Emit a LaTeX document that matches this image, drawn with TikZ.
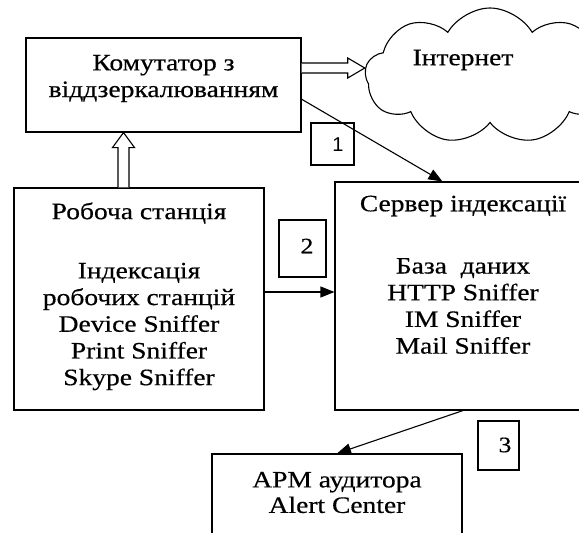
\documentclass[tikz,border=0pt]{standalone}
\usepackage{fontspec}
\setmainfont{Liberation Serif}[FakeStretch=1.17, FakeBold=0.5]
\newfontfamily\numsans{Liberation Sans}
\usetikzlibrary{calc,shapes.symbols,arrows.meta}

\tikzset{
  frame/.style={draw, line width=1.1pt, rectangle, inner sep=0pt},
  label text/.style={align=center, font=\fontsize{23.5}{26.7}\selectfont, inner sep=0pt},
  numbox/.style={draw, line width=1.1pt, rectangle, inner sep=0pt},
  numtext/.style={font=\fontsize{22}{24}\selectfont, inner sep=0pt},
  link/.style={line width=1.1pt, -{Triangle[length=14pt,width=11pt]}},
  hollow/.style={draw, line width=1.1pt, fill=white, line join=miter}
}

\begin{document}
\begin{tikzpicture}[x=1pt, y=-1pt]
  \useasboundingbox (0,0) rectangle (579,533);
  \clip (0,0) rectangle (579,533);

  % cloud for the Internet
  \node[cloud, draw, line width=1.1pt, cloud puffs=9, cloud puff arc=120,
        cloud ignores aspect, minimum width=250pt, minimum height=136pt, inner sep=0pt]
        (cloud) at (490,76) {};
  \node[label text] (inet) at (463,60) {Інтернет};

  % main boxes
  \node[frame, minimum width=275pt, minimum height=94pt]  (sw)  at (163.5,85) {};
  \node[frame, minimum width=250pt, minimum height=222pt] (ws)  at (139,299) {};
  \node[frame, minimum width=256pt, minimum height=228pt] (srv) at (463,296) {};
  \node[frame, minimum width=250pt, minimum height=130pt] (arm) at (337,519) {};

  % box texts
  \node[label text] (swtext) at (163.5,78.5) {Комутатор з\\віддзеркалюванням};
  \node[label text] (wstitle) at (139,213) {Робоча станція};
  \node[label text] (wstext) at (139,326.5)
    {Індексація\\робочих станцій\\Device Sniffer\\Print Sniffer\\Skype Sniffer};
  \node[label text] (srvtitle) at (463,206) {Сервер індексації};
  \node[label text] (srvtext) at (463,306)
    {База\ \ даних\\HTTP Sniffer\\IM Sniffer\\Mail Sniffer};
  \node[label text, font=\fontsize{23.5}{25.5}\selectfont] (armtext) at (337,492.5)
    {АРМ аудитора\\Alert Center};

  % numbered tags
  \node[numbox, minimum width=43pt, minimum height=42pt] (n1) at (332.5,144) {};
  \node[numtext, font=\numsans\fontsize{20}{24}\selectfont] (t1) at (338,145) {1};
  \node[numbox, minimum width=47pt, minimum height=57pt] (n2) at (302.5,248.5) {};
  \node[numtext] (t2) at (307,246) {2};
  \node[numbox, minimum width=41pt, minimum height=49pt] (n3) at (498.5,445.5) {};
  \node[numtext] (t3) at (505,445) {3};

  % data links
  \coordinate (l1s) at ($(sw.north east)!0.649!(sw.south east)$);
  \coordinate (l1e) at ($(srv.north west)!0.42!(srv.north east)$);
  \draw[link] (l1s) -- (l1e);

  \coordinate (l2s) at ($(ws.east)+(0,-7)$);
  \draw[link] (l2s) -- (l2s -| srv.west);

  \draw[link] (srv.south) -- (arm.north);

  % hollow block arrow from the workstation up to the switch
  \coordinate (upbase) at ($(ws.north)+(-15.5,0)$);
  \coordinate (uptip) at (upbase |- sw.south);
  \draw[hollow] ($(upbase)+(-5.5,0)$) -- ($(uptip)+(-5.5,15)$) -- ($(uptip)+(-11,15)$)
    -- (uptip) -- ($(uptip)+(11,15)$) -- ($(uptip)+(5.5,15)$) -- ($(upbase)+(5.5,0)$);

  % hollow block arrow from the switch to the Internet
  \coordinate (rtbase) at ($(sw.east)+(0,-17)$);
  \coordinate (rttip) at (cloud.west |- rtbase);
  \draw[hollow] ($(rtbase)+(0,-5)$) -- ($(rttip)+(-17,-5)$) -- ($(rttip)+(-17,-10)$)
    -- (rttip) -- ($(rttip)+(-17,10)$) -- ($(rttip)+(-17,5)$) -- ($(rtbase)+(0,5)$);
\end{tikzpicture}
\end{document}
